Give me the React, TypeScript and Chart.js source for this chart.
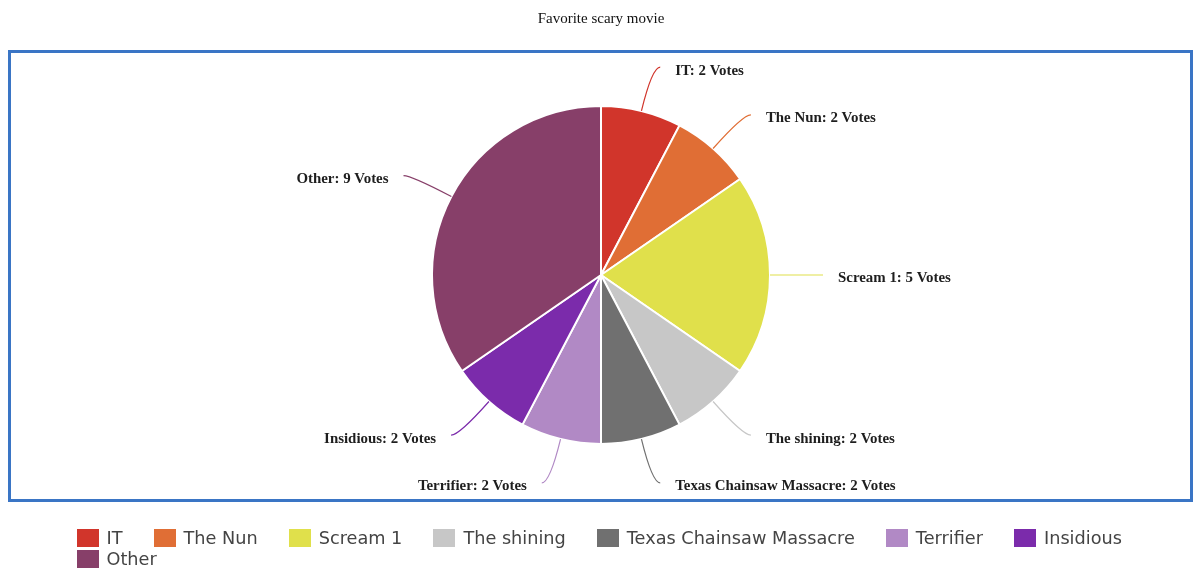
import { useEffect, useRef } from "react";
import { Chart, registerables, Plugin } from "chart.js";

Chart.register(...registerables);

const movieLabels = [
  "IT",
  "The Nun",
  "Scream 1",
  "The shining",
  "Texas Chainsaw Massacre",
  "Terrifier",
  "Insidious",
  "Other",
];
const voteCounts = [2, 2, 5, 2, 2, 2, 2, 9];
const sliceColors = [
  "#d1352b",
  "#e06e35",
  "#e0e04b",
  "#c7c7c7",
  "#707070",
  "#b189c5",
  "#7b2bab",
  "#873f69",
];
const chartTitle = "Favorite scary movie";

// blue frame around the pie area
const framePlugin: Plugin<"pie"> = {
  id: "frame",
  beforeDraw(chart) {
    const { ctx } = chart;
    ctx.save();
    ctx.strokeStyle = "#3a75c5";
    ctx.lineWidth = 3;
    ctx.strokeRect(9.5, 51.5, chart.width - 18, 449);
    ctx.restore();
  },
};

// curved leader lines + "name: n Votes" labels
const calloutPlugin: Plugin<"pie"> = {
  id: "callouts",
  afterDatasetsDraw(chart) {
    const { ctx } = chart;
    const meta = chart.getDatasetMeta(0);
    ctx.save();
    ctx.font = "bold 14.9px 'Liberation Serif', 'Times New Roman', serif";
    ctx.textBaseline = "middle";
    meta.data.forEach((arc, i) => {
      const { x, y, startAngle, endAngle, outerRadius } = arc.getProps(
        ["x", "y", "startAngle", "endAngle", "outerRadius"],
        true
      ) as any;
      const mid = (startAngle + endAngle) / 2;
      const cos = Math.cos(mid);
      const sin = Math.sin(mid);
      const right = cos >= -1e-6;
      const sx = x + cos * outerRadius;
      const sy = y + sin * outerRadius;
      const ex = x + cos * (outerRadius + 45);
      const ey = y + sin * (outerRadius + 45);
      const tx = ex + (right ? 8 : -8);

      ctx.strokeStyle = sliceColors[i];
      ctx.lineWidth = 1.2;
      ctx.beginPath();
      ctx.moveTo(sx, sy);
      ctx.quadraticCurveTo(ex, ey, tx, ey);
      ctx.stroke();

      ctx.fillStyle = "#1e1e1e";
      ctx.textAlign = right ? "left" : "right";
      ctx.fillText(
        `${movieLabels[i]}: ${voteCounts[i]} Votes`,
        tx + (right ? 15 : -15),
        ey + 3.5
      );
    });
    ctx.restore();
  },
};

const App = () => {
  const chartRef = useRef<HTMLCanvasElement>(null);
  const chartInstance = useRef<Chart<"pie"> | null>(null);

  useEffect(() => {
    if (!chartRef.current) return;
    if (chartInstance.current) chartInstance.current.destroy();

    chartInstance.current = new Chart(chartRef.current, {
      type: "pie",
      data: {
        labels: movieLabels,
        datasets: [
          {
            data: voteCounts,
            backgroundColor: sliceColors,
            borderColor: "#ffffff",
            borderWidth: 2,
            hoverOffset: 0,
          },
        ],
      },
      options: {
        responsive: true,
        maintainAspectRatio: false,
        animation: false,
        radius: 169,
        layout: { padding: { left: 2, bottom: 67 } },
        plugins: {
          legend: { display: false },
          tooltip: { enabled: false },
          title: {
            display: true,
            text: chartTitle,
            color: "#111",
            font: {
              family: "'Liberation Serif', 'Times New Roman', serif",
              size: 15,
              weight: "normal",
            },
            padding: { top: 10, bottom: 12 },
          },
        },
      },
      plugins: [framePlugin, calloutPlugin],
    });

    return () => {
      if (chartInstance.current) {
        chartInstance.current.destroy();
        chartInstance.current = null;
      }
    };
  }, []);

  return (
    <div style={{ position: "absolute", left: 0, top: 0, width: 1200, height: 577, background: "#fff" }}>
      <div style={{ position: "absolute", left: 0, top: 0, width: 1200, height: 577 }}>
        <canvas ref={chartRef} />
      </div>
      <div
        style={{
          position: "absolute",
          left: 76.5,
          top: 527.5,
          width: 1100,
          display: "flex",
          flexWrap: "wrap",
          fontFamily: "'DejaVu Sans', sans-serif",
          fontSize: 17.7,
          color: "#444",
          lineHeight: "21px",
        }}
      >
        {movieLabels.map((name, i) => (
          <div key={name} style={{ display: "flex", alignItems: "center", height: 21, marginRight: 31 }}>
            <span
              style={{
                display: "inline-block",
                width: 22,
                height: 18,
                background: sliceColors[i],
                marginRight: 8,
              }}
            />
            <span>{name}</span>
          </div>
        ))}
      </div>
    </div>
  );
};

export default App;
